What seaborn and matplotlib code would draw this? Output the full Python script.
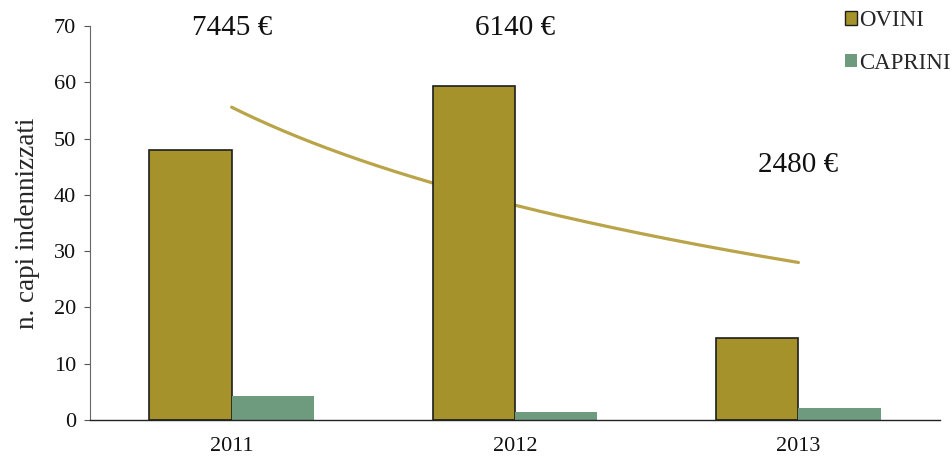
import numpy as np
import pandas as pd
import matplotlib
matplotlib.use("Agg")
import matplotlib.pyplot as plt
import seaborn as sns
from matplotlib.patches import Patch

# Data
years = ["2011", "2012", "2013"]
species = ["OVINI", "CAPRINI"]
ovini = [48, 59.3, 14.5]
caprini = [4.2, 1.5, 2.1]
euro = [7445, 6140, 2480]

palette = {"OVINI": "#A6922A", "CAPRINI": "#6E9B7D"}
trend_color = "#B9A449"

sns.set_style("white")
plt.rcParams["font.family"] = ["Liberation Serif", "DejaVu Serif"]

df = pd.DataFrame({
    "anno": years * 2,
    "specie": [species[0]] * 3 + [species[1]] * 3,
    "capi": ovini + caprini,
})

fig = plt.figure(figsize=(9.52, 4.59), dpi=100)
ax = fig.add_axes([0.0945, 0.085, 0.893, 0.858])

sns.barplot(data=df, x="anno", y="capi", hue="specie", hue_order=species,
            palette=palette, width=0.58, saturation=1, legend=False,
            linewidth=0, ax=ax)
for bar in ax.containers[0]:
    bar.set_edgecolor("#1e1e1e")
    bar.set_linewidth(1.2)

# Logarithmic trend of the compensation amounts, on a hidden secondary scale
t_obs = np.arange(1, len(euro) + 1)
slope, intercept = np.polyfit(np.log(t_obs), euro, 1)
t = np.linspace(1, len(euro), 200)
ax2 = ax.twinx()
ax2.plot(t - 1, intercept + slope * np.log(t), color=trend_color, lw=2.3,
         solid_capstyle="round")
ax2.set_ylim(-1488, 10313)
ax2.axis("off")
ax2.set_zorder(ax.get_zorder() - 1)
ax.patch.set_visible(False)

# Amount labels
label_y = [69.6, 69.6, 45.3]
for i, (v, y) in enumerate(zip(euro, label_y)):
    ax.text(i, y, f"{v} €", ha="center", va="center", fontsize=21,
            color="#111111")

ax.set_xlim(-0.5, 2.5)
ax.set_ylim(0, 70)
ax.set_yticks(range(0, 71, 10))
ax.set_xlabel("")
ax.set_ylabel("n. capi indennizzati", fontsize=19.5, labelpad=10)
ax.set_xticks([0, 1, 2])
ax.set_xticklabels(years)
ax.set_xticks([0.5, 1.5, 2.5], minor=True)
ax.tick_params(axis="x", which="major", length=0, pad=12, labelsize=16,
               labelcolor="#111111")
ax.tick_params(axis="x", which="minor", length=6, width=0.8, direction="out",
               color="#333333")
ax.tick_params(axis="y", length=4, width=0.8, direction="out", pad=6,
               labelsize=16, left=True, color="#555555", labelcolor="#111111")

sns.despine(ax=ax)
ax.spines["left"].set_color("#666666")
ax.spines["left"].set_linewidth(0.8)
ax.spines["bottom"].set_color("#222222")
ax.spines["bottom"].set_linewidth(1.0)

handles = [Patch(facecolor=palette["OVINI"], edgecolor="#1e1e1e", linewidth=1.0),
           Patch(facecolor=palette["CAPRINI"], edgecolor="none")]
fig.legend(handles, species, loc="upper left", bbox_to_anchor=(0.8876, 0.978),
           frameon=False, fontsize=16.5, handlelength=0.52, handleheight=0.52,
           handletextpad=0.1, labelspacing=0.95, borderaxespad=0, borderpad=0)

fig.savefig("out.png", dpi=100)
